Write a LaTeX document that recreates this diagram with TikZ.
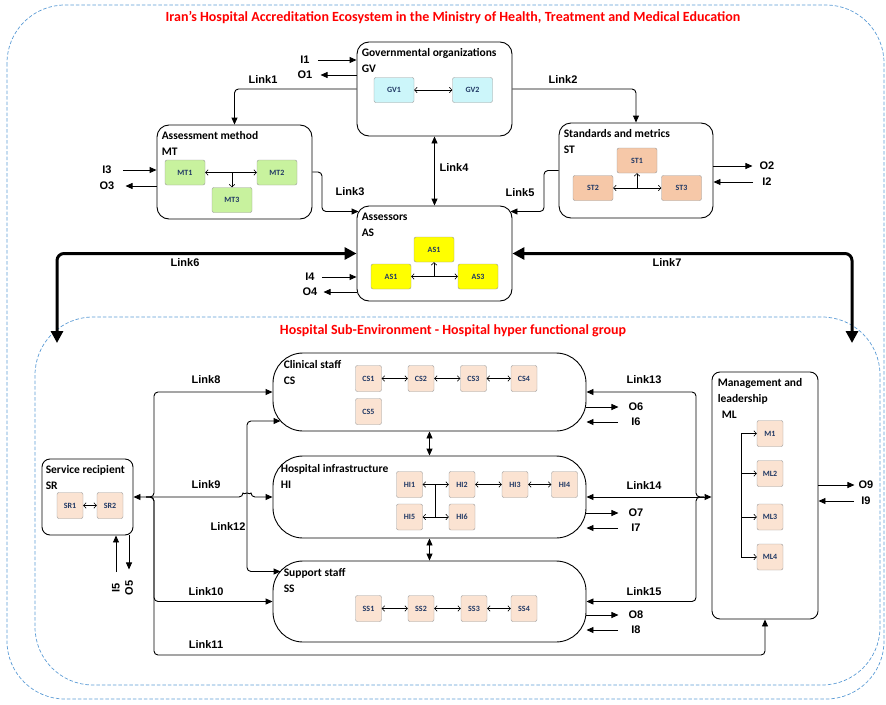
\documentclass[tikz,border=0pt]{standalone}
\usepackage{fontspec}
\setmainfont{Carlito}
\newfontfamily\arl{Liberation Sans}
\usetikzlibrary{arrows.meta,calc}
\definecolor{frameblue}{RGB}{91,155,213}
\definecolor{gvfill}{RGB}{204,246,250}
\definecolor{mtfill}{RGB}{200,242,158}
\definecolor{stfill}{RGB}{246,200,168}
\definecolor{asfill}{RGB}{255,255,0}
\definecolor{hsfill}{RGB}{251,227,210}
\definecolor{navy}{RGB}{32,56,100}
\definecolor{titred}{RGB}{255,0,0}

\begin{document}
\begin{tikzpicture}[x=1pt, y=-1pt,
    envframe/.style={draw=frameblue, dash pattern=on 3.5pt off 2pt, line width=.7pt, rounded corners=58},
    grp/.style={draw, line width=.9pt, rounded corners=12},
    pill/.style={draw, line width=.9pt, rounded corners=30, minimum width=313},
    ttl/.style={anchor=north west, align=left, inner sep=0, font=\bfseries\fontsize{11.5}{16}\selectfont},
    head/.style={text=titred, font=\bfseries\fontsize{14}{16}\selectfont},
    sbox/.style={draw=black!40, rounded corners=2, inner sep=0, text=navy, font=\bfseries\fontsize{8}{9}\selectfont},
    wide/.style={sbox, minimum width=40, minimum height=25},
    sq/.style={sbox, minimum width=26, minimum height=26},
    lbl/.style={font=\arl\bfseries\fontsize{11}{13}\selectfont, inner sep=1},
    lnk/.style={line width=.9pt, rounded corners=4, >={Triangle[length=7pt,width=6pt]}},
    thk/.style={line width=3pt, rounded corners=7, >={Triangle[length=12pt,width=12pt]}},
    barb/.style={line width=.6pt, {Straight Barb[length=2.5pt,width=5.5pt]}-{Straight Barb[length=2.5pt,width=5.5pt]}},
    barbto/.style={line width=.6pt, -{Straight Barb[length=2.5pt,width=5.5pt]}}]
\useasboundingbox (0,0) rectangle (886,704);
\draw[envframe] (7,5) rectangle (884,699);
\draw[envframe] (35,317) rectangle (880,685);
\node[head] (eco) at (453,18) {Iran's Hospital Accreditation Ecosystem in the Ministry of Health, Treatment and Medical Education};
\node[head] (hos) at (453,331) {Hospital Sub-Environment - Hospital hyper functional group};

% ministry level
\node[grp, minimum width=155, minimum height=94] (GV) at (434.5,89) {};
\node[ttl] (GVt) at ([shift={(5,7)}]GV.north west) {Governmental organizations\\GV};
\node[wide, fill=gvfill] (gv1) at (394,90) {GV1};
\node[wide, fill=gvfill] (gv2) at (472.5,90) {GV2};
\draw[barb] (gv1) -- (gv2);

\node[grp, minimum width=155, minimum height=94] (MT) at (234.5,172) {};
\node[ttl] (MTt) at ([shift={(5,7)}]MT.north west) {Assessment method\\MT};
\node[wide, fill=mtfill] (mt1) at (185,172.5) {MT1};
\node[wide, fill=mtfill] (mt2) at (277,172.5) {MT2};
\node[wide, fill=mtfill] (mt3) at (232,200) {MT3};
\draw[barb] (mt1) -- (mt2);
\draw[barbto] (mt3.north |- mt1) -- (mt3.north);

\node[grp, minimum width=154, minimum height=95] (ST) at (636,170.5) {};
\node[ttl] (STt) at ([shift={(5,7)}]ST.north west) {Standards and metrics\\ST};
\node[wide, fill=stfill] (st1) at (637,160.5) {ST1};
\node[wide, fill=stfill] (st2) at (593,188) {ST2};
\node[wide, fill=stfill] (st3) at (681.5,188) {ST3};
\draw[barb] (st2) -- (st3);
\draw[barbto] (st1.south |- st2) -- (st1.south);

\node[grp, minimum width=155, minimum height=95] (AS) at (434.5,253.5) {};
\node[ttl] (ASt) at ([shift={(5,7)}]AS.north west) {Assessors\\AS};
\node[wide, fill=asfill] (as1t) at (434,249.5) {AS1};
\node[wide, fill=asfill] (as1) at (391,276.5) {AS1};
\node[wide, fill=asfill] (as3) at (478,276.5) {AS3};
\draw[barb] (as1) -- (as3);
\draw[barbto] (as1t.south |- as3) -- (as1t.south);

% hospital level
\node[pill, minimum height=78] (CS) at (429.5,392) {};
\node[ttl] (CSt) at ([shift={(11,8)}]CS.north west) {Clinical staff\\CS};
\foreach \n/\x in {1/368.5,2/421,3/473.5,4/524}
    \node[sq, fill=hsfill] (cs\n) at (\x,378.5) {CS\n};
\node[sq, fill=hsfill] (cs5) at (368.5,411.5) {CS5};
\foreach \a/\b in {cs1/cs2,cs2/cs3,cs3/cs4}
    \draw[barb] (\a) -- (\b);

\node[pill, minimum height=82] (HI) at (429.5,497) {};
\node[ttl] (HIt) at ([shift={(8,9)}]HI.north west) {Hospital infrastructure\\HI};
\foreach \n/\x in {1/409.5,2/462,3/515,4/564.5}
    \node[sq, fill=hsfill] (hi\n) at (\x,484.5) {HI\n};
\node[sq, fill=hsfill] (hi5) at (409.5,517) {HI5};
\node[sq, fill=hsfill] (hi6) at (462,517) {HI6};
\foreach \a/\b in {hi1/hi2,hi2/hi3,hi3/hi4,hi5/hi6}
    \draw[barb] (\a) -- (\b);
\draw[line width=.6pt] ($(hi1.east)!.5!(hi2.west)$) -- ($(hi5.east)!.5!(hi6.west)$);

\node[pill, minimum height=81] (SS) at (429.5,601.5) {};
\node[ttl] (SSt) at ([shift={(11,8)}]SS.north west) {Support staff\\SS};
\foreach \n/\x in {1/368.5,2/421,3/474,4/524}
    \node[sq, fill=hsfill] (ss\n) at (\x,608.5) {SS\n};
\foreach \a/\b in {ss1/ss2,ss2/ss3,ss3/ss4}
    \draw[barb] (\a) -- (\b);

\node[grp, rounded corners=8, minimum width=91, minimum height=76] (SR) at (87.5,497) {};
\node[ttl] (SRt) at ([shift={(4,7)}]SR.north west) {Service recipient\\SR};
\node[sq, fill=hsfill] (sr1) at (70,505.5) {SR1};
\node[sq, fill=hsfill] (sr2) at (110,505.5) {SR2};
\draw[barb] (sr1) -- (sr2);

\node[grp, rounded corners=8, minimum width=106, minimum height=247] (ML) at (765,495.5) {};
\node[ttl] (MLt) at ([shift={(6,7)}]ML.north west) {Management and\\leadership\\\hspace{4pt}ML};
\node[sq, fill=hsfill] (m1) at (770,433.5) {M1};
\node[sq, fill=hsfill] (ml2) at (770,473.5) {ML2};
\node[sq, fill=hsfill] (ml3) at (770,517) {ML3};
\node[sq, fill=hsfill] (ml4) at (770,557) {ML4};
\coordinate (mv) at (741,495);
\draw[line width=.6pt] (mv |- m1) -- (mv |- ml4);
\foreach \b in {m1,ml2,ml3,ml4}
    \draw[barbto] (mv |- \b) -- (\b.west);

% link labels
\foreach \n/\x/\y in {1/263/80, 2/563/80, 3/350/192, 4/454/168, 5/520/193, 6/185/263, 7/667/263,
    8/206/380, 9/206/485, 10/206/592, 11/206/645, 12/228/527, 13/644/380, 14/644/486, 15/644/592}
    \node[lbl] (link\n) at (\x,\y) {Link\n};

% links
\draw[lnk,->] (GV.west) -| (MT.north);
\draw[lnk,->] (GV.east) -| (ST.north);
\coordinate (l3) at (322,190);
\draw[lnk,->] (MT.east) -| (l3) |- ([shift={(2,-42)}]AS.west);
\draw[lnk,<->] (GV.south) -- (AS.north);
\coordinate (l5) at (544,190);
\draw[lnk,->] (ST.west) -| (l5) |- ([shift={(-2,-42)}]AS.east);
\coordinate (l6) at (57,343);
\coordinate (l7) at (852,343);
\draw[thk,<->] (AS.west) -| (l6);
\draw[thk,<->] (AS.east) -| (l7);

\coordinate (lj) at (146,497);
\coordinate (lv) at (154,497);
\coordinate (lb) at (154,655);
\coordinate (lk) at (247,497);
\coordinate (hp) at (243,497);
\draw[lnk,->] (lj) -| (lv |- CS.west) -- (CS.west);
\draw[lnk,<->] (SR.east) -- (hp) arc[start angle=180, end angle=360, radius=4] -- (HI.west);
\draw[lnk,->] (lj) -| (lv |- SS.west) -- (SS.west);
\draw[lnk,->] (lj) -| (lb) -| (ML.south);
\draw[lnk,<->] ([shift={(8,29)}]CS.west) -| (lk) |- ([shift={(8,-30)}]SS.west);
\draw[lnk,<->] (CS.south) -- (HI.north);
\draw[lnk,<->] (HI.south) -- (SS.north);

\coordinate (rj) at (704,497);
\coordinate (rv) at (696,497);
\draw[lnk,->] (rj) -| (rv |- CS.east) -- (CS.east);
\draw[lnk,<->] (HI.east) -- (HI.east -| ML.west);
\draw[lnk,->] (rj) -| (rv |- SS.east) -- (SS.east);

% inputs and outputs
\node[lbl] (i1) at (305,60) {I1};
\node[lbl] (o1) at (305,75) {O1};
\draw[lnk,->] ([xshift=7]i1.east) -- (i1 -| GV.west);
\draw[lnk,->] (o1 -| GV.west) -- ([xshift=7]o1.east);
\node[lbl] (o2) at (767,166) {O2};
\node[lbl] (i2) at (767,182) {I2};
\draw[lnk,->] (o2 -| ST.east) -- ([xshift=-6]o2.west);
\draw[lnk,->] ([xshift=-8]i2.west) -- (i2 -| ST.east);
\node[lbl] (i3) at (107,170) {I3};
\node[lbl] (o3) at (107,186) {O3};
\draw[lnk,->] ([xshift=10]i3.east) -- (i3 -| MT.west);
\draw[lnk,->] (o3 -| MT.west) -- ([xshift=10]o3.east);
\node[lbl] (i4) at (310,277) {I4};
\node[lbl] (o4) at (310,292) {O4};
\draw[lnk,->] ([xshift=6]i4.east) -- (i4 -| AS.west);
\draw[lnk,->] (o4 -| AS.west) -- ([xshift=5]o4.east);
\node[lbl, rotate=90] (i5) at (116,588) {I5};
\node[lbl, rotate=90] (o5) at (129,588) {O5};
\draw[lnk,->] ([shift={(0,-10)}]i5.east) -- (i5 |- SR.south);
\draw[lnk,->] (o5 |- SR.south) -- ([shift={(0,-10)}]o5.east);
\node[lbl] (o6) at (636,407) {O6};
\node[lbl] (i6) at (636,422) {I6};
\draw[lnk,->] (o6 -| CS.east) -- ([xshift=-9]o6.west);
\draw[lnk,->] ([xshift=-12]i6.west) -- (i6 -| CS.east);
\node[lbl] (o7) at (636,513) {O7};
\node[lbl] (i7) at (636,528) {I7};
\draw[lnk,->] (o7 -| HI.east) -- ([xshift=-9]o7.west);
\draw[lnk,->] ([xshift=-12]i7.west) -- (i7 -| HI.east);
\node[lbl] (o8) at (636,615) {O8};
\node[lbl] (i8) at (636,630) {I8};
\draw[lnk,->] (o8 -| SS.east) -- ([xshift=-9]o8.west);
\draw[lnk,->] ([xshift=-12]i8.west) -- (i8 -| SS.east);
\node[lbl] (o9) at (866,485) {O9};
\node[lbl] (i9) at (866,501) {I9};
\draw[lnk,->] (o9 -| ML.east) -- ([xshift=-3]o9.west);
\draw[lnk,->] ([xshift=-6]i9.west) -- (i9 -| ML.east);
\end{tikzpicture}
\end{document}
